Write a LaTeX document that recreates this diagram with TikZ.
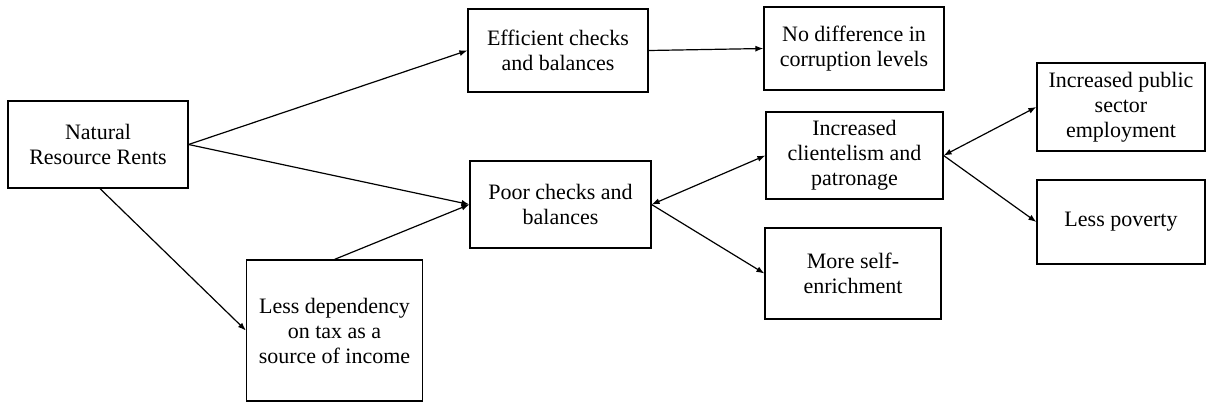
\documentclass[tikz,border=0pt]{standalone}
\usepackage{fontspec}
\setmainfont{Liberation Serif}
\usetikzlibrary{arrows.meta}
\tikzstyle{box} = [draw, rectangle, align=center, inner sep=0mm, line width=0.6pt, font=\fontsize{11}{12.5}\selectfont]
\tikzstyle{l} = [line width=0.6pt, -{Latex[length=4pt, width=3pt]}]
\tikzstyle{ll} = [line width=0.6pt, {Latex[length=4pt, width=3pt]}-{Latex[length=4pt, width=3pt]}]

\begin{document}
\begin{tikzpicture}[x=0.5pt, y=-0.5pt]
    %\draw[help lines] (0, 0) grid (1207, 403);
    \useasboundingbox (0, 0) rectangle (1207, 403);
    \node[box, minimum width=90pt, minimum height=43.5pt] (nrr) at (98, 144.5) {Natural\\Resource Rents};
    \node[box, minimum width=90pt, minimum height=41.5pt] (eff) at (558, 50.5) {Efficient checks\\and balances};
    \node[box, minimum width=90pt, minimum height=41.5pt] (nodiff) at (854, 48.5) {No difference in\\corruption levels};
    \node[box, minimum width=90.5pt, minimum height=43.5pt] (poor) at (560.5, 204.5) {Poor checks and\\balances};
    \node[box, minimum width=88pt, minimum height=70.5pt] (lessdep) at (334.5, 330.5) {Less dependency\\on tax as a\\source of income};
    \node[box, minimum width=88.5pt, minimum height=43.5pt] (client) at (854.5, 155.5) {Increased\\clientelism and\\patronage};
    \node[box, minimum width=88pt, minimum height=45.5pt] (self) at (853, 273.5) {More self-\\enrichment};
    \node[box, minimum width=84pt, minimum height=44pt] (pub) at (1121, 107) {Increased public\\sector\\employment};
    \node[box, minimum width=84pt, minimum height=42pt] (pov) at (1121, 222) {Less poverty};

    \draw[l] (nrr.east) -- (eff.west);
    \draw[l] (nrr.east) -- (poor.west);
    \draw[l] ([xshift=1pt]nrr.south) -- (lessdep.west);
    \draw[l] (lessdep.north) -- (poor.west);
    \draw[l] (eff.east) -- (nodiff.west);
    \draw[ll] (poor.east) -- (client.west);
    \draw[l] (poor.east) -- (self.west);
    \draw[ll] (client.east) -- (pub.west);
    \draw[l] (client.east) -- (pov.west);
\end{tikzpicture}
\end{document}
